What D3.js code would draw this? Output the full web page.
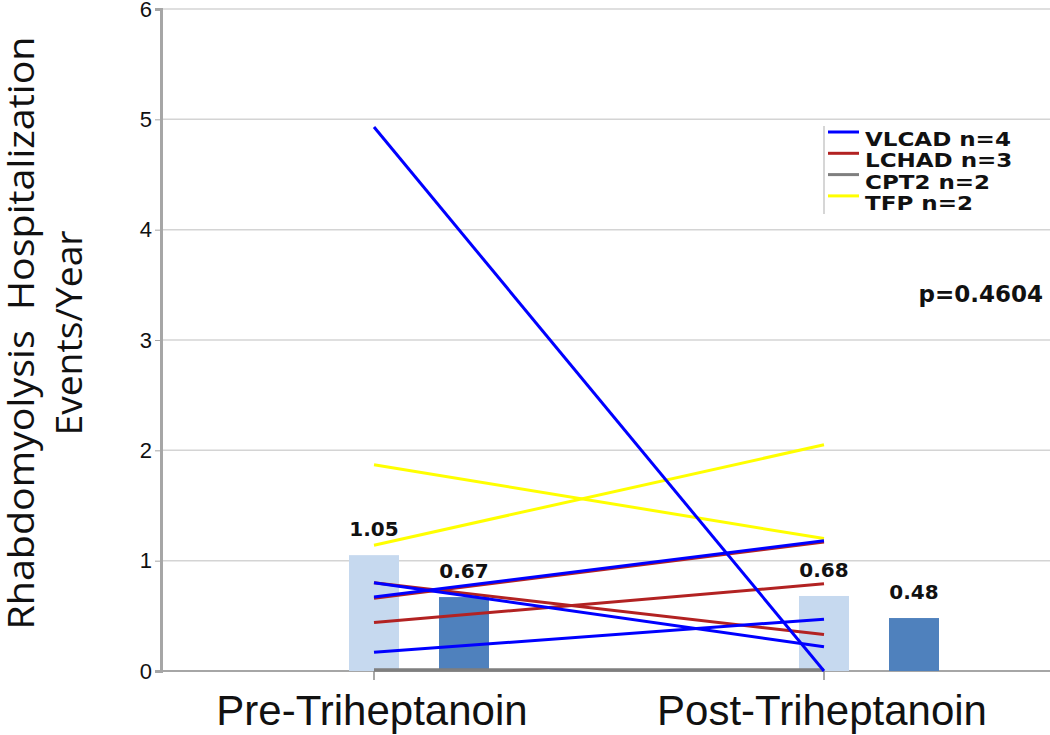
<!DOCTYPE html>
<html>
<head>
<meta charset="utf-8">
<script src="https://cdn.jsdelivr.net/npm/d3@7"></script>
<style>
  body { margin: 0; background: #fff; }
  svg { display: block; }
</style>
</head>
<body>
<script>
// chart data
var categories = ["Pre-Triheptanoin", "Post-Triheptanoin"];
var barSeries = ["mean", "median"];
var barValues = [[1.05, 0.67], [0.68, 0.48]];   // per category: [light, dark]
var barColors = ["#c6d9ef", "#4f81bd"];

var groups = ["VLCAD n=4", "LCHAD n=3", "CPT2 n=2", "TFP n=2"];
var groupColors = ["#0000ff", "#b22222", "#7f7f7f", "#ffff00"];
// each patient: [group index, pre, post]
var patients = [
    [2, 0.01, 0.01],
    [2, 0.01, 0.01],
    [3, 1.87, 1.20],
    [3, 1.14, 2.05],
    [1, 0.80, 0.33],
    [1, 0.44, 0.79],
    [1, 0.66, 1.17],
    [0, 4.93, 0.00],
    [0, 0.67, 1.18],
    [0, 0.80, 0.22],
    [0, 0.17, 0.47]
];
var yTicks = [0, 1, 2, 3, 4, 5, 6];
var pText = "p=0.4604";

var width = 1050, height = 735;
var svg = d3.select("body").append("svg")
    .attr("width", width)
    .attr("height", height);

var y = d3.scaleLinear().domain([0, 6]).range([671, 9]);
var x = d3.scalePoint().domain(categories).range([374, 824]);
var xSub = d3.scalePoint().domain(barSeries).range([0, 90]);
var barW = 50;

// gridlines
svg.append("g").selectAll("line")
    .data(yTicks)
    .enter().append("line")
    .attr("x1", 161).attr("x2", 1050)
    .attr("y1", function(d){ return y(d); })
    .attr("y2", function(d){ return y(d); })
    .attr("stroke", "#d4d4d4")
    .attr("stroke-width", 1.5);

// y axis
var yAxis = d3.axisLeft(y).tickValues(yTicks).tickFormat(d3.format("d")).tickSize(6).tickPadding(6);
var yg = svg.append("g").attr("transform", "translate(161,0)").call(yAxis);
yg.select(".domain").attr("stroke", "#a6a6a6").attr("stroke-width", 3);
yg.selectAll(".tick line").attr("stroke", "#a6a6a6");
yg.selectAll(".tick text")
    .attr("font-family", "Liberation Sans, Arial, sans-serif")
    .attr("font-size", 22)
    .attr("fill", "#111")
    .attr("x", -9);

// bottom axis line
svg.append("line")
    .attr("x1", 161).attr("x2", 1050)
    .attr("y1", y(0)).attr("y2", y(0))
    .attr("stroke", "#a6a6a6").attr("stroke-width", 2);

// bars
var barData = [];
categories.forEach(function(c, i){
    barSeries.forEach(function(s, j){
        barData.push({cat: c, series: s, value: barValues[i][j], color: barColors[j]});
    });
});
svg.append("g").selectAll("rect")
    .data(barData)
    .enter().append("rect")
    .attr("x", function(d){ return x(d.cat) + xSub(d.series) - barW / 2; })
    .attr("y", function(d){ return y(d.value); })
    .attr("width", barW)
    .attr("height", function(d){ return y(0) - y(d.value); })
    .attr("fill", function(d){ return d.color; });

svg.append("g").selectAll("text")
    .data(barData)
    .enter().append("text")
    .attr("x", function(d){ return x(d.cat) + xSub(d.series); })
    .attr("y", function(d){ return y(d.value) - 19; })
    .attr("text-anchor", "middle")
    .attr("font-family", "DejaVu Sans, Verdana, sans-serif")
    .attr("font-weight", "bold")
    .attr("font-size", 20)
    .attr("fill", "#111")
    .text(function(d){ return d.value.toFixed(2); });

// category ticks
svg.append("g").selectAll("line")
    .data(categories)
    .enter().append("line")
    .attr("x1", function(d){ return x(d); })
    .attr("x2", function(d){ return x(d); })
    .attr("y1", y(0)).attr("y2", y(0) + 9)
    .attr("stroke", "#8c8c8c").attr("stroke-width", 1.5);

// patient lines
svg.append("g").selectAll("line")
    .data(patients)
    .enter().append("line")
    .attr("x1", x(categories[0]))
    .attr("x2", x(categories[1]))
    .attr("y1", function(d){ return y(d[1]); })
    .attr("y2", function(d){ return y(d[2]); })
    .attr("stroke", function(d){ return groupColors[d[0]]; })
    .attr("stroke-width", 3);

// category labels
svg.append("g").selectAll("text")
    .data(categories)
    .enter().append("text")
    .attr("x", function(d){ return x(d) - 2; })
    .attr("y", 725)
    .attr("text-anchor", "middle")
    .attr("font-family", "Liberation Sans, Arial, sans-serif")
    .attr("font-size", 42)
    .attr("fill", "#111")
    .text(function(d){ return d; });

// y axis title
var yTitle = svg.append("text")
    .attr("transform", "translate(34,333) rotate(-90)")
    .attr("text-anchor", "middle")
    .attr("font-family", "Open Sans, sans-serif")
    .attr("font-size", 37)
    .attr("fill", "#111")
    .style("white-space", "pre");
yTitle.append("tspan").attr("x", 0).attr("y", 0)
    .attr("textLength", 593).attr("lengthAdjust", "spacingAndGlyphs")
    .text("Rhabdomyolysis  Hospitalization");
yTitle.append("tspan").attr("x", 0).attr("y", 48)
    .attr("textLength", 205).attr("lengthAdjust", "spacingAndGlyphs")
    .text("Events/Year");

// legend
var legend = svg.append("g").attr("transform", "translate(824,0)");
legend.append("line")
    .attr("x1", 0).attr("x2", 0).attr("y1", 126).attr("y2", 214)
    .attr("stroke", "#c8c8c8").attr("stroke-width", 1.5);
var li = legend.selectAll("g.item")
    .data(groups)
    .enter().append("g")
    .attr("class", "item")
    .attr("transform", function(d, i){ return "translate(0," + (146 + i * 21.3) + ")"; });
li.append("line")
    .attr("x1", 4).attr("x2", 35)
    .attr("y1", -14).attr("y2", -14)
    .attr("stroke", function(d, i){ return groupColors[i]; })
    .attr("stroke-width", 3);
li.append("text")
    .attr("x", 41).attr("y", 0)
    .attr("font-family", "DejaVu Sans, Verdana, sans-serif")
    .attr("font-weight", "bold")
    .attr("font-size", 20)
    .attr("fill", "#111")
    .text(function(d){ return d; })
    .each(function(){
        // stretch slightly to the reference width
        var w = this.getComputedTextLength();
        d3.select(this).attr("textLength", w * 1.15).attr("lengthAdjust", "spacingAndGlyphs");
    });

// p value
svg.append("text")
    .attr("x", 1043).attr("y", 302)
    .attr("text-anchor", "end")
    .attr("font-family", "DejaVu Sans, Verdana, sans-serif")
    .attr("font-weight", "bold")
    .attr("font-size", 23)
    .attr("fill", "#111")
    .text(pText);
</script>
</body>
</html>
